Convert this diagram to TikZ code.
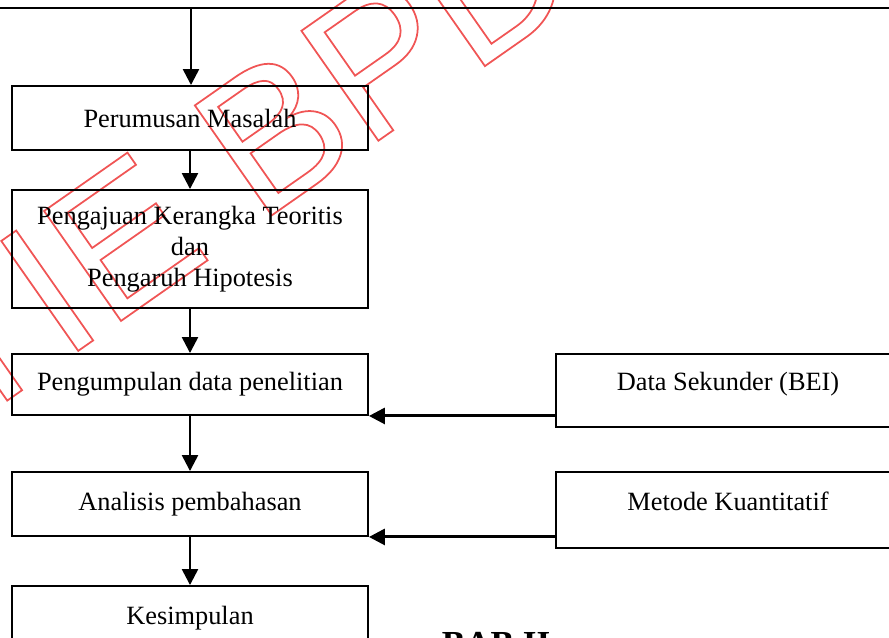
\documentclass[tikz,border=0pt]{standalone}
\usepackage{fontspec}
\setmainfont{Liberation Serif}
\newfontfamily\wmfont{Liberation Sans}
\usetikzlibrary{arrows.meta}
\definecolor{wmred}{RGB}{240,85,85}
\tikzset{
	every path/.style={line width=1.1pt},
	align=center,
	stepbox/.style={
		draw,
		rectangle,
		minimum width=7.12cm,
		font=\fontsize{15}{17.6}\selectfont,
	},
	srcbox/.style={
		draw,
		rectangle,
		minimum width=6.88cm,
		text height=10.5pt,
		text depth=10.5pt,
		font=\fontsize{15}{17.6}\selectfont,
	},
	flow/.style={
		line width=1.4pt,
		-{Triangle[length=0.32cm,width=0.32cm]}
	},
	feed/.style={
		line width=1.7pt,
		-{Triangle[length=0.32cm,width=0.32cm]}
	},
	wmark/.style={
		text=wmred,
		rotate=35,
		inner sep=0pt,
		font=\wmfont\fontsize{111}{111}\selectfont,
	},
}

\begin{document}
\begin{tikzpicture}[x=0.02cm,y=-0.02cm]
	\useasboundingbox (0,0) rectangle (889,638);

	% watermark
	\node[wmark, anchor=base west] (wm) at (258,225)
		{\special{pdf:literal direct 1 Tr 1 w}\llap{STIE }BPD\special{pdf:literal direct 0 Tr}};

	% steps
	\coordinate (topjoin) at (191,8);
	\draw (-10,8) -- (900,8);

	\node[stepbox, minimum height=1.28cm] (b1) at (190,118) {Perumusan Masalah};
	\node[stepbox, minimum height=2.36cm] (b2) at (190,249) {Pengajuan Kerangka Teoritis\\dan\\Pengaruh Hipotesis};
	\node[stepbox, minimum height=1.22cm] (b3) at (190,384.5) {Pengumpulan data penelitian};
	\node[stepbox, minimum height=1.28cm] (b4) at (190,504) {Analisis pembahasan};
	\node[stepbox, minimum height=1.28cm] (b5) at (190,618) {Kesimpulan};

	\node[srcbox, minimum height=1.46cm] (ds) at (728,390.5) {Data Sekunder (BEI)};
	\node[srcbox, minimum height=1.52cm] (mk) at (728,510) {Metode Kuantitatif};

	\node[anchor=base west, font=\bfseries\fontsize{20}{24}\selectfont] (chap) at (435,655) {BAB II};

	\draw[flow] (topjoin) -- (topjoin |- b1.north);
	\draw[flow] (b1) -- (b2);
	\draw[flow] (b2) -- (b3);
	\draw[flow] (b3) -- (b4);
	\draw[flow] (b4) -- (b5);

	\draw[feed] (ds.west |- b3.south east) -- (b3.south east);
	\draw[feed] (mk.west |- b4.south east) -- (b4.south east);

\end{tikzpicture}
\end{document}
